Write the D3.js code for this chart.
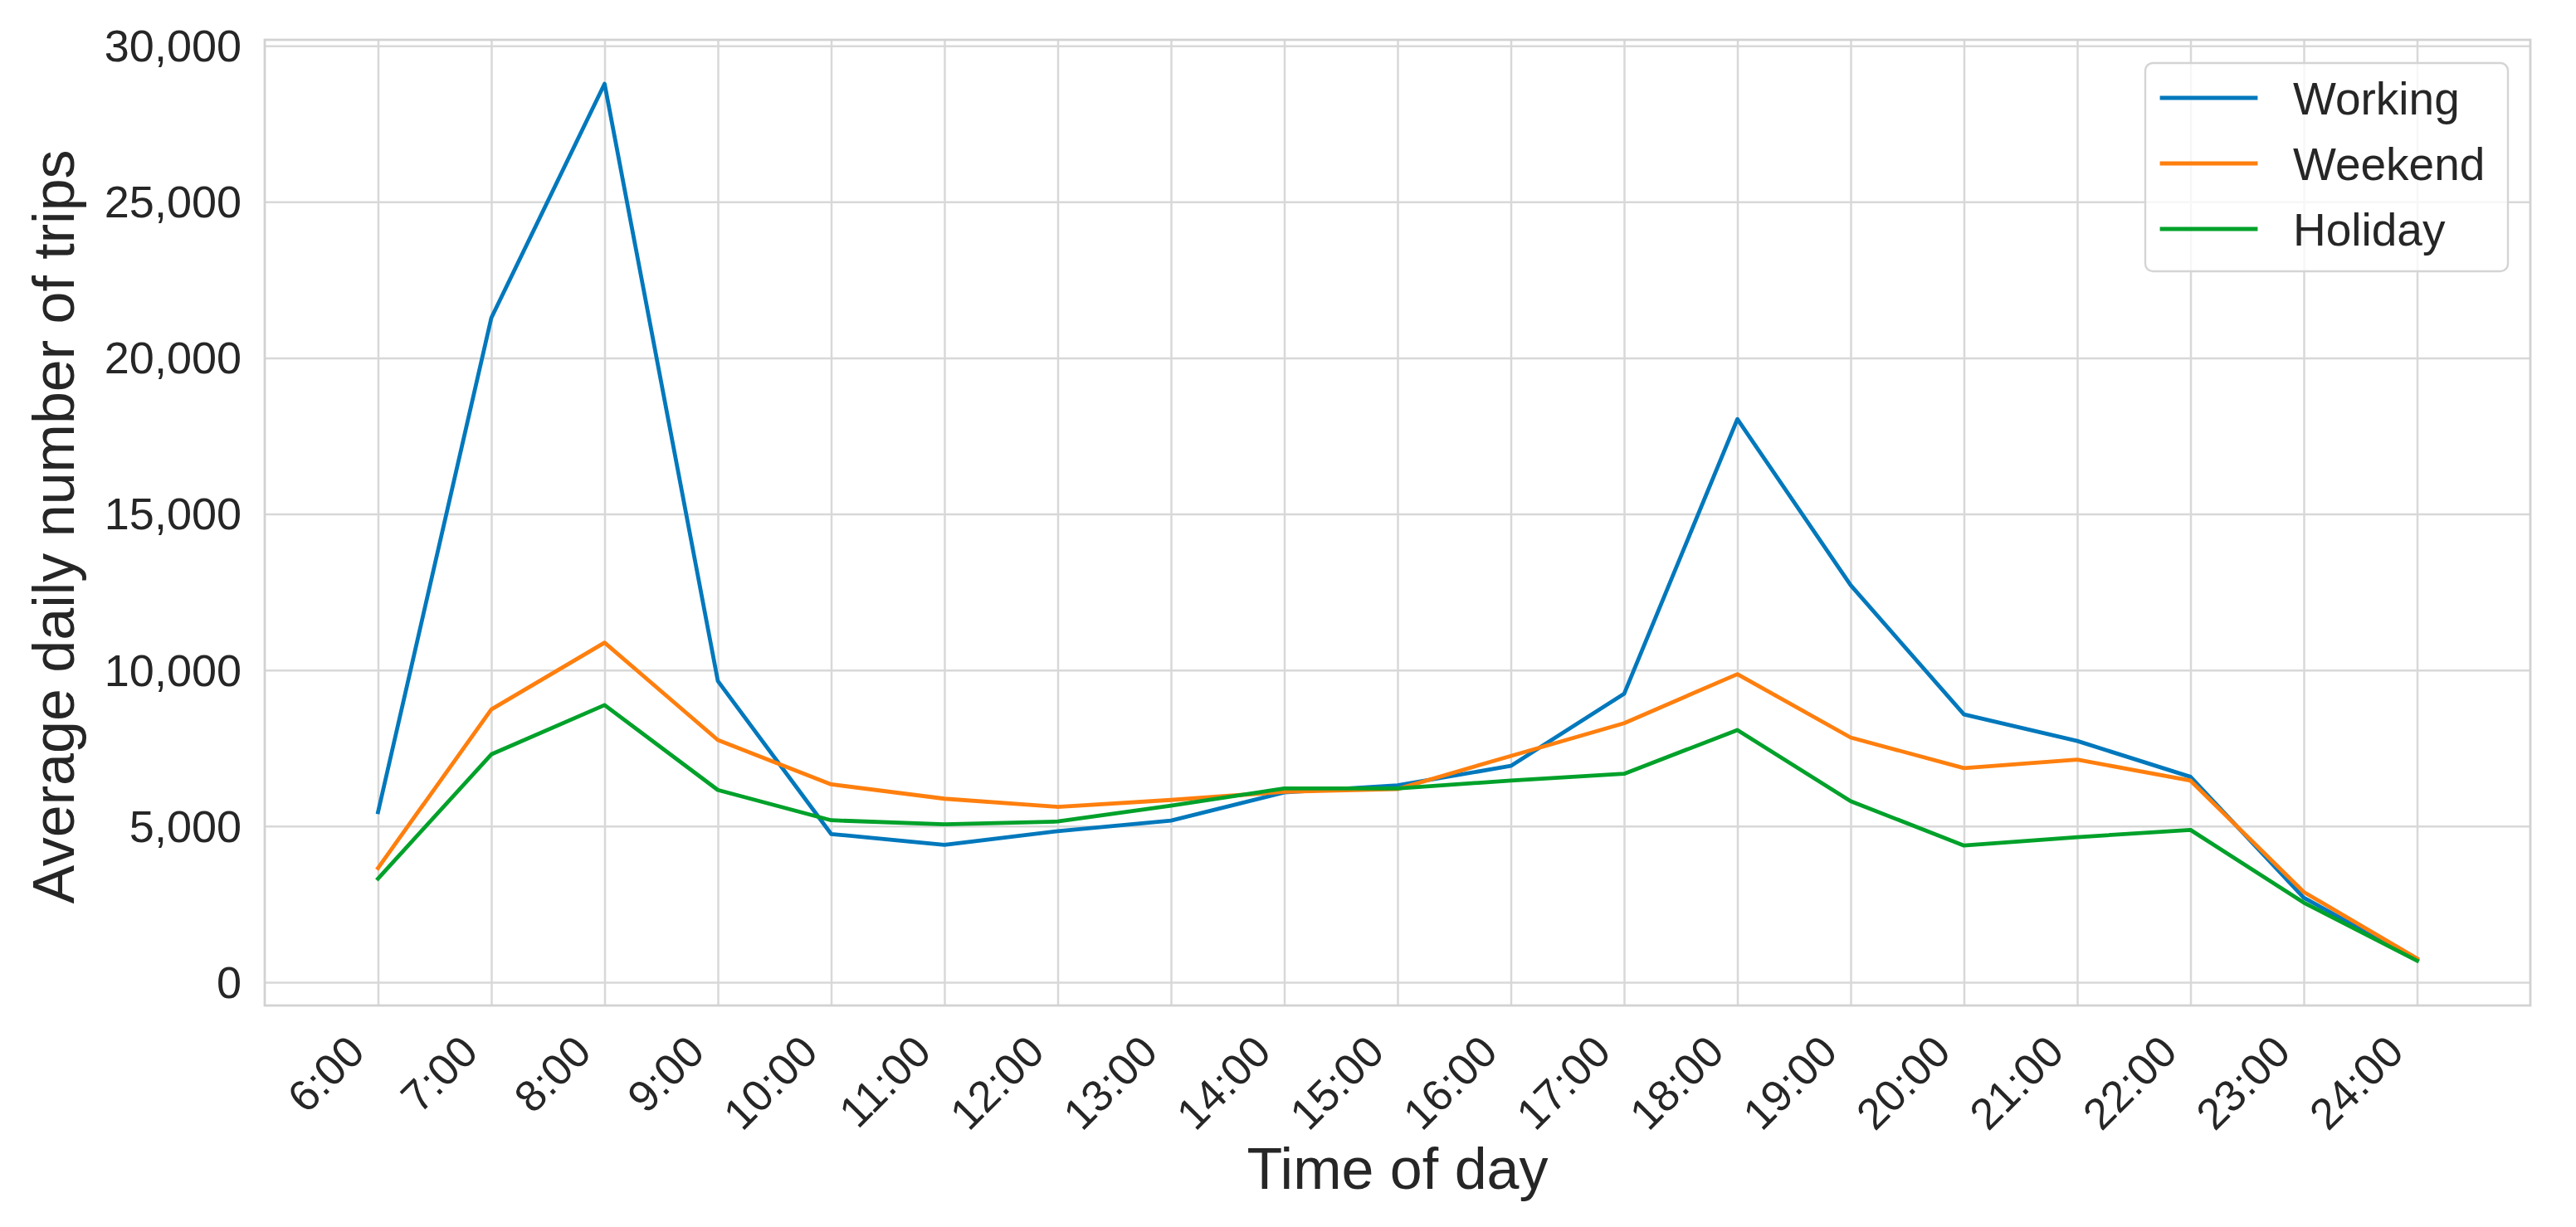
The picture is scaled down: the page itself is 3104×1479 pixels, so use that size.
<!DOCTYPE html>
<html>
<head>
<meta charset="utf-8">
<script src="https://cdn.jsdelivr.net/npm/d3@7"></script>
<style>
  html, body { margin: 0; padding: 0; background: #ffffff; }
  svg { display: block; }
  text { font-family: "Liberation Sans", Arial, "DejaVu Sans", sans-serif; fill: #262626; }
</style>
</head>
<body>
<script>
// ---- Data ----
const hours = ["6:00","7:00","8:00","9:00","10:00","11:00","12:00","13:00","14:00","15:00",
               "16:00","17:00","18:00","19:00","20:00","21:00","22:00","23:00","24:00"];
const working = [5450, 21280, 28780, 9650, 4750, 4400, 4840, 5180, 6080, 6310,
                 6930, 9240, 18040, 12720, 8580, 7730, 6580, 2710, 720];
const weekend = [3660, 8740, 10880, 7760, 6340, 5880, 5620, 5840, 6100, 6190,
                 7250, 8300, 9870, 7840, 6860, 7130, 6460, 2890, 760];
const holiday = [3320, 7300, 8880, 6160, 5190, 5060, 5150, 5660, 6210, 6210,
                 6460, 6680, 8080, 5800, 4380, 4650, 4880, 2550, 690];
const seriesNames = ["Working", "Weekend", "Holiday"];
const seriesColors = ["#0178bc", "#ff7f0e", "#00a12a"];
const yTicks = [0, 5000, 10000, 15000, 20000, 25000, 30000];

// ---- Layout ----
const W = 3104, H = 1479;
const plot = { left: 319, right: 3049, top: 48, bottom: 1212 };
const pw = plot.right - plot.left, ph = plot.bottom - plot.top;

const svg = d3.select("body").append("svg").attr("width", W).attr("height", H);
svg.append("rect").attr("width", W).attr("height", H).attr("fill", "#ffffff");

const x = d3.scaleLinear().domain([-1, hours.length]).range([plot.left, plot.right]);
const y = d3.scaleLinear().domain([-744, 30190]).range([plot.bottom, plot.top]);

const gridColor = "#d8d8d8";

// Y axis with grid
const gy = svg.append("g").attr("transform", `translate(${plot.left},0)`)
  .call(d3.axisLeft(y).tickValues(yTicks).tickFormat(d3.format(",")).tickSize(-pw).tickPadding(28));
gy.select(".domain").remove();
gy.selectAll(".tick line").attr("stroke", gridColor).attr("stroke-width", 2.5);
gy.selectAll(".tick text").attr("font-size", 54).attr("fill", "#262626").attr("dy", "0.34em");

// X axis with grid
const gx = svg.append("g").attr("transform", `translate(0,${plot.bottom})`)
  .call(d3.axisBottom(x).tickValues(d3.range(hours.length)).tickFormat(i => hours[i]).tickSize(-ph).tickPadding(0));
gx.select(".domain").remove();
gx.selectAll(".tick line").attr("stroke", gridColor).attr("stroke-width", 2.5);
gx.selectAll(".tick text")
  .attr("font-size", 53)
  .attr("fill", "#262626")
  .attr("text-anchor", "end")
  .attr("x", -14).attr("y", 59).attr("dy", 0)
  .attr("transform", "rotate(-45,-14,59)");

// Frame
svg.append("rect")
  .attr("x", plot.left).attr("y", plot.top)
  .attr("width", pw).attr("height", ph)
  .attr("fill", "none").attr("stroke", "#d2d2d2").attr("stroke-width", 2.8);

// Lines
const allSeries = [working, weekend, holiday];
const line = d3.line().x((d, i) => x(i)).y(d => y(d));
allSeries.forEach((s, k) => {
  svg.append("path")
    .datum(s)
    .attr("d", line)
    .attr("fill", "none")
    .attr("stroke", seriesColors[k])
    .attr("stroke-width", 4.8)
    .attr("stroke-linejoin", "round")
    .attr("stroke-linecap", "square");
});

// Axis titles
svg.append("text")
  .attr("x", (plot.left + plot.right) / 2).attr("y", 1433)
  .attr("text-anchor", "middle").attr("font-size", 70)
  .text("Time of day");
svg.append("text")
  .attr("transform", `translate(89,${(plot.top + plot.bottom) / 2 + 5}) rotate(-90)`)
  .attr("text-anchor", "middle").attr("font-size", 70)
  .text("Average daily number of trips");

// Legend
const lg = svg.append("g");
lg.append("rect")
  .attr("x", 2585).attr("y", 76).attr("width", 437).attr("height", 251)
  .attr("rx", 9).attr("ry", 9)
  .attr("fill", "#ffffff").attr("fill-opacity", 0.8)
  .attr("stroke", "#d4d4d4").attr("stroke-width", 2.4);
const rowY = [118, 197, 276];
seriesNames.forEach((n, k) => {
  lg.append("line")
    .attr("x1", 2605).attr("x2", 2718)
    .attr("y1", rowY[k]).attr("y2", rowY[k])
    .attr("stroke", seriesColors[k]).attr("stroke-width", 4.8)
    .attr("stroke-linecap", "square");
  lg.append("text")
    .attr("x", 2763).attr("y", rowY[k] + 20)
    .attr("font-size", 55)
    .text(n);
});
</script>
</body>
</html>
